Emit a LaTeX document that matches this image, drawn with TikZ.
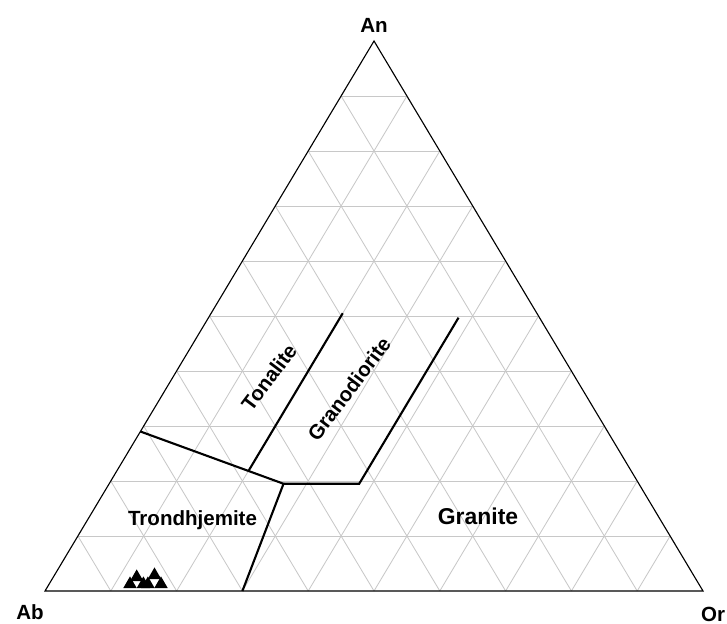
\documentclass[tikz,border=0pt]{standalone}
\usepackage{fontspec}
\setmainfont{Liberation Sans}
\usetikzlibrary{calc}
\definecolor{tgrid}{HTML}{C8C8C8}

\begin{document}
\begin{tikzpicture}[
  x=0.025cm, y=-0.025cm,
  grid/.style={draw=tgrid, line width=0.6pt},
  frame/.style={draw=black, line width=0.8pt, line join=miter},
  bound/.style={draw=black, line width=1.5pt},
  apex/.style={font=\fontsize{14.6}{16}\selectfont\bfseries, inner sep=0pt},
  lab/.style={font=\fontsize{14.6}{16}\selectfont\bfseries, inner sep=0pt},
  pt/.style={fill=black}]
\useasboundingbox (0,0) rectangle (727,623);
\coordinate (Ab) at (45,591);
\coordinate (Or) at (703,591);
\coordinate (An) at (374,41);
\foreach \k in {1,...,9}{
  \draw[grid] ($(Ab)!\k/10!(An)$) -- ($(Or)!\k/10!(An)$);
  \draw[grid] ($(Ab)!\k/10!(Or)$) -- ($(An)!\k/10!(Or)$);
  \draw[grid] ($(Or)!\k/10!(Ab)$) -- ($(An)!\k/10!(Ab)$);
}
\draw[frame] (Ab) -- (Or) -- (An) -- cycle;
\coordinate (p1) at (barycentric cs:Ab=0.71,Or=0,An=0.29);
\coordinate (jn) at (barycentric cs:Ab=0.54,Or=0.265,An=0.195);
\coordinate (bt) at (barycentric cs:Ab=0.70,Or=0.30,An=0);
\coordinate (tt) at (barycentric cs:Ab=0.295,Or=0.20,An=0.505);
\coordinate (tb) at (barycentric cs:Ab=0.80,Or=0.20,An=0);
\coordinate (t0) at (intersection of p1--jn and tt--tb);
\coordinate (g1) at (barycentric cs:Ab=0.425,Or=0.38,An=0.195);
\coordinate (g2) at (barycentric cs:Ab=0.123,Or=0.38,An=0.497);
\draw[bound] (p1) -- (jn) -- (bt);
\draw[bound] (t0) -- (tt);
\draw[bound] (jn) -- (g1) -- (g2);
\node[apex] (an) at (374,25) {An};
\node[apex] (ab) at (30,612) {Ab};
\node[apex] (or) at (713,614) {Or};
\node[lab] (trond) at (192.5,520) {Trondhjemite};
\node[lab, font=\fontsize{16.3}{18}\selectfont\bfseries] (gran) at (478,516.5) {Granite};
\node[lab, rotate=53] (tona) at (269,377.3) {Tonalite};
\node[lab, rotate=53] (grd) at (349,389) {Granodiorite};
\foreach \x/\y in {130/588, 143.4/588, 147.9/588, 161/588, 136.7/581, 154.5/579}
  \fill[pt] (\x-6.7,\y) -- (\x+6.7,\y) -- (\x,\y-11.6) -- cycle;
\end{tikzpicture}
\end{document}
